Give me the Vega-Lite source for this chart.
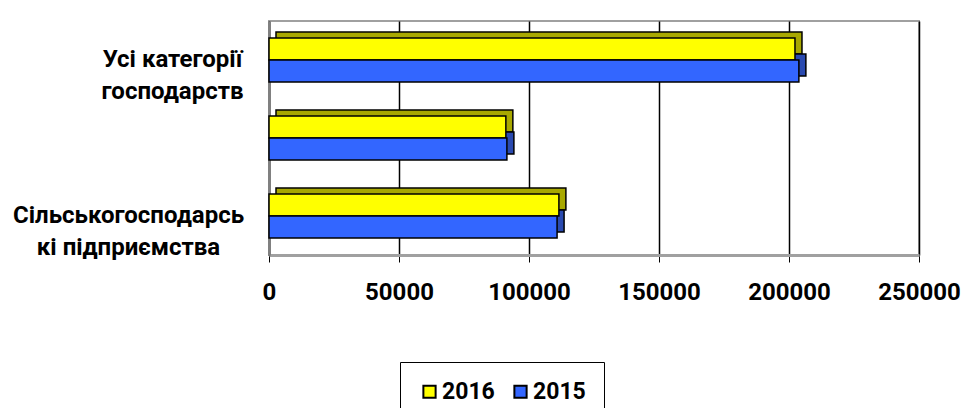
{
  "$schema": "https://vega.github.io/schema/vega-lite/v6.json",
  "autosize": {"type": "none"},
  "padding": {"left": 269, "top": 21, "right": 42, "bottom": 153},
  "width": 650,
  "height": 234,
  "background": "white",
  "config": {
    "font": "Roboto",
    "view": {"stroke": "#a0a0a0", "strokeWidth": 2}
  },
  "data": {
    "values": [
      {"category": "Усі категорії господарств", "year": "2016", "value": 202300},
      {"category": "Усі категорії господарств", "year": "2015", "value": 203800},
      {"category": "Господарства населення", "year": "2016", "value": 91100},
      {"category": "Господарства населення", "year": "2015", "value": 91500},
      {"category": "Сільськогосподарські підприємства", "year": "2016", "value": 111500},
      {"category": "Сільськогосподарські підприємства", "year": "2015", "value": 110800}
    ]
  },
  "encoding": {
    "y": {
      "field": "category",
      "type": "nominal",
      "sort": ["Усі категорії господарств", "Господарства населення", "Сільськогосподарські підприємства"],
      "scale": {"paddingInner": 0.436, "paddingOuter": 0.218},
      "axis": {
        "title": null,
        "labelExpr": "datum.value == 'Усі категорії господарств' ? ['Усі категорії', 'господарств'] : datum.value == 'Сільськогосподарські підприємства' ? ['Сільськогосподарсь', 'кі підприємства'] : ''",
        "labelFont": "Roboto",
        "labelFontWeight": "bold",
        "labelFontSize": 24,
        "labelColor": "black",
        "labelLineHeight": 32,
        "labelLimit": 400,
        "labelAlign": "center",
        "labelPadding": {"condition": {"test": "datum.value == 'Усі категорії господарств'", "value": 97}, "value": 141},
        "ticks": false,
        "domainColor": "#808080",
        "domainWidth": 3
      }
    },
    "x": {
      "field": "value",
      "type": "quantitative",
      "scale": {"domain": [0, 250000], "nice": false},
      "axis": {
        "title": null,
        "values": [0, 50000, 100000, 150000, 200000, 250000],
        "format": "d",
        "labelFont": "Roboto",
        "labelFontWeight": "bold",
        "labelFontSize": 24,
        "labelColor": "black",
        "labelPadding": 18,
        "labelFlush": false,
        "labelOverlap": false,
        "tickSize": 7,
        "tickColor": "black",
        "grid": true,
        "gridColor": "black",
        "gridWidth": 1.5,
        "domainColor": "#a0a0a0",
        "domainWidth": 3
      }
    }
  },
  "layer": [
    {
      "mark": {"type": "bar", "xOffset": 7, "stroke": "black", "strokeWidth": 1.5},
      "encoding": {
        "yOffset": {"field": "year", "type": "nominal", "sort": ["2016", "2015"], "scale": {"range": [-6, 38]}},
        "fill": {
          "condition": {"test": "datum.year == '2016'", "value": "#A8A800"},
          "value": "#2A4AB0"
        }
      }
    },
    {
      "mark": {"type": "bar", "stroke": "black", "strokeWidth": 1.5},
      "encoding": {
        "yOffset": {"field": "year", "type": "nominal", "sort": ["2016", "2015"]},
        "color": {
          "field": "year",
          "type": "nominal",
          "scale": {"domain": ["2016", "2015"], "range": ["#FFFF00", "#3366FF"]},
          "legend": {
            "title": null,
            "orient": "none",
            "direction": "horizontal",
            "legendX": 131,
            "legendY": 341,
            "padding": 18,
            "strokeColor": "black",
            "fillColor": "white",
            "symbolType": "square",
            "symbolSize": 150,
            "symbolStrokeColor": "black",
            "symbolStrokeWidth": 2,
            "labelFont": "Roboto",
            "labelFontWeight": "bold",
            "labelFontSize": 23,
            "labelColor": "black",
            "labelOffset": 1,
            "columnPadding": 14
          }
        }
      }
    }
  ],
  "resolve": {"scale": {"yOffset": "independent"}}
}
